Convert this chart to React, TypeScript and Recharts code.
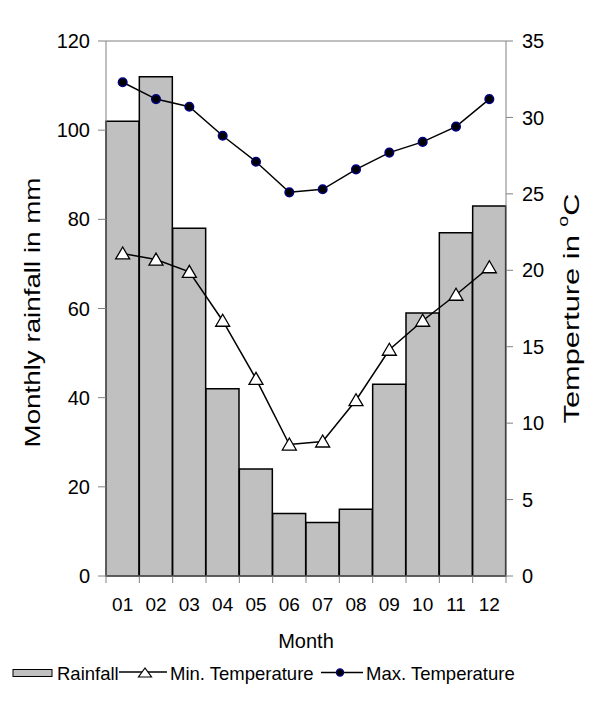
import React from 'react';
import { ComposedChart, Bar, Line, XAxis, YAxis, ReferenceLine } from 'recharts';

const FONT = '"Liberation Sans", Arial, sans-serif';

const months = ['01', '02', '03', '04', '05', '06', '07', '08', '09', '10', '11', '12'];
const rainfall = [102, 112, 78, 42, 24, 14, 12, 15, 43, 59, 77, 83];
const minTemp = [21.1, 20.7, 19.9, 16.7, 12.9, 8.6, 8.8, 11.5, 14.8, 16.7, 18.4, 20.2];
const maxTemp = [32.3, 31.2, 30.7, 28.8, 27.1, 25.1, 25.3, 26.6, 27.7, 28.4, 29.4, 31.2];
const rainTicks = [0, 20, 40, 60, 80, 100, 120];
const tempTicks = [0, 5, 10, 15, 20, 25, 30, 35];

const data = months.map((m, i) => ({
  month: m,
  rainfall: rainfall[i],
  minT: minTemp[i],
  maxT: maxTemp[i],
}));

const CHART_W = 584;
const CHART_H = 648;
const LEFT_W = 98;
const RIGHT_W = 86;
const PLOT_W = CHART_W - LEFT_W - RIGHT_W;
const BAND = PLOT_W / months.length;
const GRAY = '#808080';

const MonthTick = (props: any) => {
  const { x, y, payload, index } = props;
  const half = BAND / 2;
  return (
    <g>
      <line x1={x - half} x2={x - half} y1={y} y2={y + 7} stroke={GRAY} />
      {index === months.length - 1 && (
        <line x1={x + half} x2={x + half} y1={y} y2={y + 7} stroke={GRAY} />
      )}
      <text x={x} y={y + 35} textAnchor="middle" fontSize={19} fontFamily={FONT} fill="#000">
        {payload.value}
      </text>
    </g>
  );
};

const MonthLabel = (props: any) => {
  const vb = props.viewBox;
  return (
    <text x={vb.x + vb.width / 2} y={vb.y + 72} textAnchor="middle" fontSize={20} fontFamily={FONT} fill="#000">
      Month
    </text>
  );
};

const LeftLabel = (props: any) => {
  const vb = props.viewBox;
  const cx = vb.x + 24;
  const cy = vb.y + vb.height / 2 + 4;
  return (
    <text
      x={cx}
      y={cy}
      transform={`rotate(-90 ${cx} ${cy})`}
      textAnchor="middle"
      dominantBaseline="central"
      fontSize={22}
      fontFamily={FONT}
      fill="#000"
      textLength={270}
      lengthAdjust="spacingAndGlyphs"
    >
      Monthly rainfall in mm
    </text>
  );
};

const RightLabel = (props: any) => {
  const vb = props.viewBox;
  const cx = vb.x + 65;
  const cy = vb.y + vb.height / 2;
  return (
    <text
      x={cx}
      y={cy}
      transform={`rotate(-90 ${cx} ${cy})`}
      textAnchor="middle"
      dominantBaseline="central"
      fontSize={22}
      fontFamily={FONT}
      fill="#000"
      textLength={230}
      lengthAdjust="spacingAndGlyphs"
    >
      <tspan>Temperture in </tspan>
      <tspan dy={-8} fontSize={14}>o</tspan>
      <tspan dy={8}>C</tspan>
    </text>
  );
};

const TriangleDot = (props: any) => {
  const { cx, cy } = props;
  if (cx == null || cy == null) return null;
  return (
    <polygon
      points={`${cx},${cy - 6.5} ${cx - 7},${cy + 5.5} ${cx + 7},${cy + 5.5}`}
      fill="#fff"
      stroke="#000"
      strokeWidth={1.3}
    />
  );
};

const CircleDot = (props: any) => {
  const { cx, cy } = props;
  if (cx == null || cy == null) return null;
  return <circle cx={cx} cy={cy} r={4.3} fill="#000" stroke="#000080" strokeWidth={1.5} />;
};

const LegendRow = () => (
  <svg width={CHART_W} height={36} style={{ display: 'block' }} fontFamily={FONT}>
    <rect x={5} y={13.5} width={39} height={7} fill="#c0c0c0" stroke="#000" />
    <text x={49} y={23.5} fontSize={18.5} fill="#000">Rainfall</text>
    <line x1={111} x2={159} y1={16} y2={16} stroke="#000" strokeWidth={1.5} />
    <polygon points="137,12 130.5,21 143.5,21" fill="#fff" stroke="#000" strokeWidth={1.2} />
    <text x={162} y={23.5} fontSize={18.5} fill="#000">Min. Temperature</text>
    <line x1={313} x2={355} y1={16.5} y2={16.5} stroke="#000" strokeWidth={1.5} />
    <circle cx={332} cy={16.5} r={3.6} fill="#000" stroke="#000080" strokeWidth={1.2} />
    <text x={358} y={23.5} fontSize={18.5} fill="#000">Max. Temperature</text>
  </svg>
);

export default function App() {
  return (
    <div style={{ width: CHART_W, fontFamily: FONT }}>
      <ComposedChart
        width={CHART_W}
        height={CHART_H}
        data={data}
        margin={{ top: 33, right: 0, bottom: 0, left: 0 }}
        barCategoryGap={0}
        barGap={0}
      >
        <XAxis
          dataKey="month"
          height={80}
          interval={0}
          tickLine={false}
          tickSize={0}
          tickMargin={0}
          axisLine={{ stroke: GRAY }}
          tick={<MonthTick />}
          label={<MonthLabel />}
        />
        <YAxis
          yAxisId="left"
          orientation="left"
          width={LEFT_W}
          domain={[0, 120]}
          ticks={rainTicks}
          interval={0}
          tickSize={8}
          tickMargin={8}
          axisLine={{ stroke: GRAY }}
          tickLine={{ stroke: GRAY }}
          tick={{ fill: '#000', fontSize: 20, fontFamily: FONT }}
          label={<LeftLabel />}
        />
        <YAxis
          yAxisId="right"
          orientation="right"
          width={RIGHT_W}
          domain={[0, 35]}
          ticks={tempTicks}
          interval={0}
          tickSize={7}
          tickMargin={9}
          axisLine={{ stroke: GRAY }}
          tickLine={{ stroke: GRAY }}
          tick={{ fill: '#000', fontSize: 20, fontFamily: FONT }}
          label={<RightLabel />}
        />
        <ReferenceLine yAxisId="left" y={120} stroke={GRAY} />
        <Bar
          yAxisId="left"
          dataKey="rainfall"
          name="Rainfall"
          fill="#c0c0c0"
          stroke="#000"
          strokeWidth={1.5}
          isAnimationActive={false}
        />
        <Line
          yAxisId="right"
          type="linear"
          dataKey="minT"
          name="Min. Temperature"
          stroke="#000"
          strokeWidth={1.5}
          dot={<TriangleDot />}
          activeDot={false}
          isAnimationActive={false}
        />
        <Line
          yAxisId="right"
          type="linear"
          dataKey="maxT"
          name="Max. Temperature"
          stroke="#000"
          strokeWidth={1.5}
          dot={<CircleDot />}
          activeDot={false}
          isAnimationActive={false}
        />
      </ComposedChart>
      <LegendRow />
    </div>
  );
}
